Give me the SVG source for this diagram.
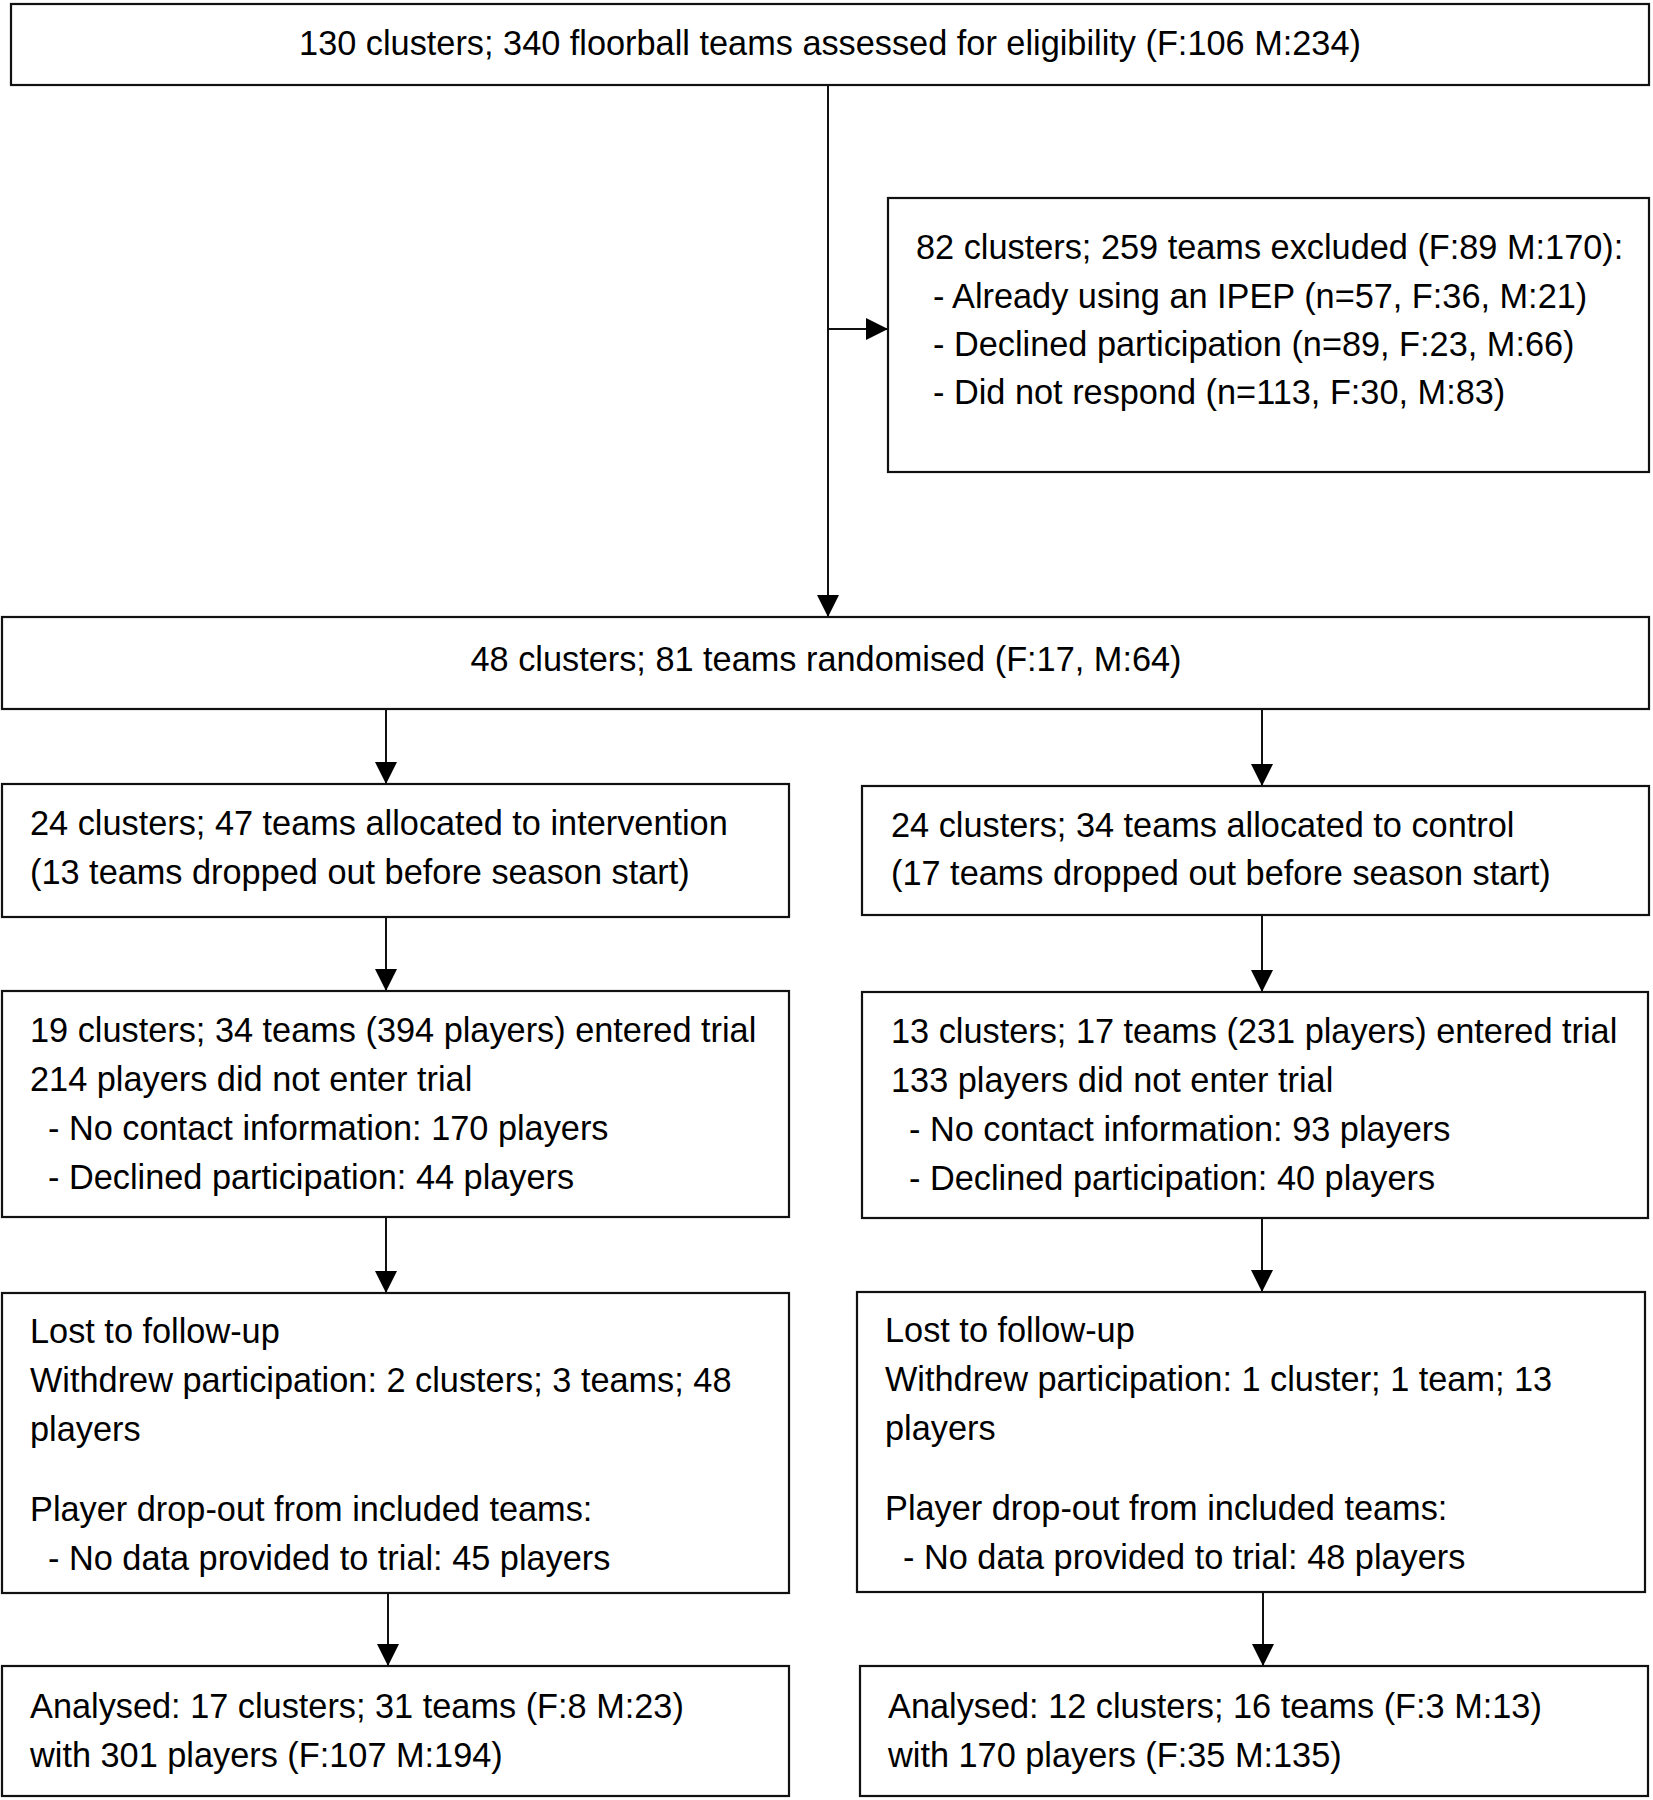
<svg xmlns="http://www.w3.org/2000/svg" width="1653" height="1800" viewBox="0 0 1653 1800">
<style>
.box{fill:#fff;stroke:#111;stroke-width:2.2}
.t{font-family:"Liberation Sans",Arial,sans-serif;font-size:34.3px;fill:#000}
.c{text-anchor:middle}
.ln{stroke:#111;stroke-width:2;fill:none}
</style>
<defs>
<marker id="ah" markerUnits="userSpaceOnUse" markerWidth="24" markerHeight="24" refX="22" refY="11" orient="auto">
<path d="M0,0 L22,11 L0,22 Z" fill="#000"/>
</marker>
</defs>
<rect width="1653" height="1800" fill="#fff"/>
<g id="connectors">
<line class="ln" x1="828" y1="85" x2="828" y2="617" marker-end="url(#ah)"/>
<line class="ln" x1="828" y1="329" x2="888" y2="329" marker-end="url(#ah)"/>
<line class="ln" x1="386" y1="709" x2="386" y2="784" marker-end="url(#ah)"/>
<line class="ln" x1="1262" y1="709" x2="1262" y2="786" marker-end="url(#ah)"/>
<line class="ln" x1="386" y1="917" x2="386" y2="991" marker-end="url(#ah)"/>
<line class="ln" x1="1262" y1="915" x2="1262" y2="992" marker-end="url(#ah)"/>
<line class="ln" x1="386" y1="1217" x2="386" y2="1293" marker-end="url(#ah)"/>
<line class="ln" x1="1262" y1="1218" x2="1262" y2="1292" marker-end="url(#ah)"/>
<line class="ln" x1="388" y1="1593" x2="388" y2="1666" marker-end="url(#ah)"/>
<line class="ln" x1="1263" y1="1592" x2="1263" y2="1666" marker-end="url(#ah)"/>
</g>
<g id="assessed">
<rect class="box" x="11" y="4" width="1638" height="81"/>
<text class="t c" x="830" y="55">130 clusters; 340 floorball teams assessed for eligibility (F:106 M:234)</text>
</g>
<g id="excluded">
<rect class="box" x="888" y="198" width="761" height="274"/>
<text class="t" x="916" y="259">82 clusters; 259 teams excluded (F:89 M:170):</text>
<text class="t" x="933" y="308">- Already using an IPEP (n=57, F:36, M:21)</text>
<text class="t" x="933" y="356">- Declined participation (n=89, F:23, M:66)</text>
<text class="t" x="933" y="404">- Did not respond (n=113, F:30, M:83)</text>
</g>
<g id="randomised">
<rect class="box" x="2" y="617" width="1647" height="92"/>
<text class="t c" x="826" y="671">48 clusters; 81 teams randomised (F:17, M:64)</text>
</g>
<g id="intervention">
<rect class="box" x="2" y="784" width="787" height="133"/>
<text class="t" x="30" y="835">24 clusters; 47 teams allocated to intervention</text>
<text class="t" x="30" y="884">(13 teams dropped out before season start)</text>
</g>
<g id="control">
<rect class="box" x="862" y="786" width="787" height="129"/>
<text class="t" x="891" y="837">24 clusters; 34 teams allocated to control</text>
<text class="t" x="891" y="885">(17 teams dropped out before season start)</text>
</g>
<g id="trial-intervention">
<rect class="box" x="2" y="991" width="787" height="226"/>
<text class="t" x="30" y="1042">19 clusters; 34 teams (394 players) entered trial</text>
<text class="t" x="30" y="1091">214 players did not enter trial</text>
<text class="t" x="48" y="1140">- No contact information: 170 players</text>
<text class="t" x="48" y="1189">- Declined participation: 44 players</text>
</g>
<g id="trial-control">
<rect class="box" x="862" y="992" width="786" height="226"/>
<text class="t" x="891" y="1043">13 clusters; 17 teams (231 players) entered trial</text>
<text class="t" x="891" y="1092">133 players did not enter trial</text>
<text class="t" x="909" y="1141">- No contact information: 93 players</text>
<text class="t" x="909" y="1190">- Declined participation: 40 players</text>
</g>
<g id="lost-intervention">
<rect class="box" x="2" y="1293" width="787" height="300"/>
<text class="t" x="30" y="1343">Lost to follow-up</text>
<text class="t" x="30" y="1392">Withdrew participation: 2 clusters; 3 teams; 48</text>
<text class="t" x="30" y="1441">players</text>
<text class="t" x="30" y="1521">Player drop-out from included teams:</text>
<text class="t" x="48" y="1570">- No data provided to trial: 45 players</text>
</g>
<g id="lost-control">
<rect class="box" x="857" y="1292" width="788" height="300"/>
<text class="t" x="885" y="1342">Lost to follow-up</text>
<text class="t" x="885" y="1391">Withdrew participation: 1 cluster; 1 team; 13</text>
<text class="t" x="885" y="1440">players</text>
<text class="t" x="885" y="1520">Player drop-out from included teams:</text>
<text class="t" x="903" y="1569">- No data provided to trial: 48 players</text>
</g>
<g id="analysed-intervention">
<rect class="box" x="2" y="1666" width="787" height="130"/>
<text class="t" x="30" y="1718">Analysed: 17 clusters; 31 teams (F:8 M:23)</text>
<text class="t" x="30" y="1767">with 301 players (F:107 M:194)</text>
</g>
<g id="analysed-control">
<rect class="box" x="860" y="1666" width="788" height="130"/>
<text class="t" x="888" y="1718">Analysed: 12 clusters; 16 teams (F:3 M:13)</text>
<text class="t" x="888" y="1767">with 170 players (F:35 M:135)</text>
</g>
</svg>
